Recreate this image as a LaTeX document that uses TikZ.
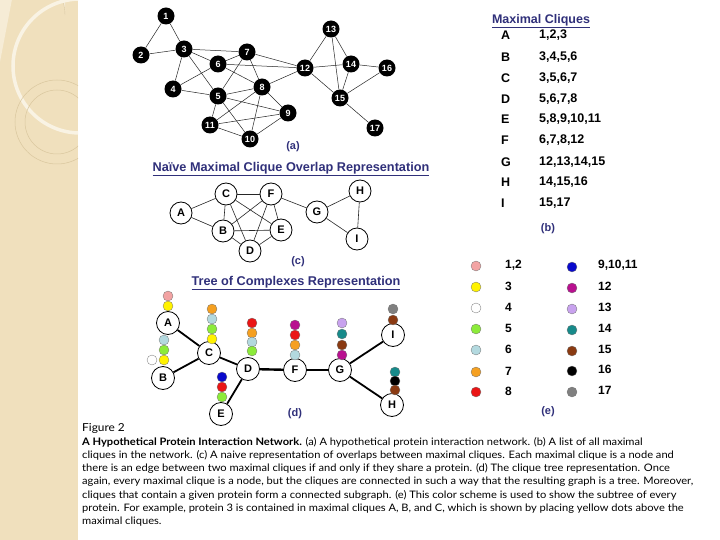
\documentclass[tikz,border=0pt]{standalone}
\usepackage{fontspec}
\setmainfont{Liberation Sans}
\newfontfamily\capfont{Lato}[FakeStretch=1.08]
\definecolor{navy}{HTML}{30307A}
\definecolor{beige}{HTML}{F0E0BD}
\definecolor{beigel}{HTML}{F6ECD6}
\definecolor{tan}{HTML}{D9C79E}
\definecolor{cpink}{HTML}{F2A3A3}
\definecolor{cyellow}{HTML}{FFF200}
\definecolor{cgreen}{HTML}{8CEB3A}
\definecolor{clblue}{HTML}{B3D9DF}
\definecolor{corange}{HTML}{F5A021}
\definecolor{cred}{HTML}{EA1515}
\definecolor{cblue}{HTML}{0A0ACC}
\definecolor{cmag}{HTML}{B8108F}
\definecolor{clav}{HTML}{C8A2EE}
\definecolor{cteal}{HTML}{178A8A}
\definecolor{cbrown}{HTML}{8A3A12}
\definecolor{cgray}{HTML}{808080}
\tikzset{
  anode/.style={circle,fill=black,inner sep=0pt,minimum size=17pt,text=white,font=\bfseries\fontsize{9}{9}\selectfont},
  aedge/.style={draw=black!85,line width=0.5pt},
  cnode/.style={circle,draw=black,fill=white,line width=0.8pt,inner sep=0pt,minimum size=22pt,font=\bfseries\fontsize{11}{11}\selectfont},
  cedge/.style={draw=black!85,line width=0.6pt},
  dnode/.style={circle,draw=black,fill=white,line width=0.8pt,inner sep=0pt,minimum size=23pt,font=\bfseries\fontsize{11}{11}\selectfont},
  dedge/.style={draw=black,line width=1.8pt},
  dotst/.style={draw=black!55,line width=0.3pt},
  heading/.style={font=\bfseries\fontsize{12.7}{13}\selectfont,text=navy,inner sep=0pt},
  plabel/.style={font=\bfseries\fontsize{11}{12}\selectfont,text=navy,inner sep=0pt},
  tabtext/.style={font=\bfseries\fontsize{12.5}{13}\selectfont,inner sep=0pt,anchor=west},
  legtext/.style={font=\bfseries\fontsize{12}{13}\selectfont,inner sep=0pt,anchor=west},
  capline/.style={font=\capfont\fontsize{10.3}{10.5}\selectfont,inner sep=0pt,anchor=base west},
}
\begin{document}
\begin{tikzpicture}[x=1pt,y=-1pt]
\useasboundingbox (0,0) rectangle (720,540);
\fill[white] (0,0) rectangle (720,540);
% left decorative panel
\begin{scope}
\clip (0,0) rectangle (78,540);
\fill[beige] (0,0) rectangle (78,540);
\fill[beigel] (0,0) -- (65,0) -- (65,15) arc[start angle=0,end angle=-90,radius=47] -- (0,62) -- cycle;
\draw[tan,line width=0.4pt] (65,15) arc[start angle=0,end angle=-90,radius=47];
\draw[white!60!beige,line width=3.5pt] (80,66) circle (67);
\draw[tan,line width=0.5pt] (57,122) circle (42);
\draw[tan,line width=0.5pt] (57,122) circle (32);
\end{scope}
% ---------- (a) ----------
\foreach \n/\x/\y in {1/166/16,2/141/55,3/184/49,4/173/89,5/218/96,6/218/64,7/247/52,8/262/87,9/288/113,10/250/139,11/210/125,12/305/68,13/331/29,14/351/64,15/340/98,16/387/68,17/375/128}
  \node[anode] (a\n) at (\x,\y) {\n};
\foreach \u/\v in {1/2,1/3,2/3,3/7,3/6,3/4,3/5,6/7,6/4,6/8,6/12,7/5,7/8,7/12,4/5,5/8,5/9,5/10,5/11,8/9,8/10,8/11,8/12,9/10,9/11,11/10,12/13,12/14,12/15,13/14,13/15,14/15,14/16,15/16,15/17}
  \draw[aedge] (a\u) -- (a\v);
\node[plabel] (la) at (293,147) {(a)};
% ---------- (b) ----------
\node[font=\bfseries\fontsize{12.5}{13}\selectfont,text=navy,inner sep=0pt] (tb) at (541,21) {\underline{Maximal Cliques}};
\foreach \l/\v/\y in {A/{1,2,3}/35,B/{3,4,5,6}/57,C/{3,5,6,7}/78,D/{5,6,7,8}/99,E/{5,8,9,10,11}/119,F/{6,7,8,12}/140,G/{12,13,14,15}/162,H/{14,15,16}/182,I/{15,17}/203}{
  \node[tabtext] (bl\l) at (501,\y) {\l};
  \node[tabtext] (bv\l) at (539,\y) {\v};
}
\node[plabel] (lb) at (548,229) {(b)};
% ---------- (c) ----------
\node[heading] (tc) at (291,169) {\underline{Naïve Maximal Clique Overlap Representation}};
\foreach \n/\x/\y in {A/181/213,C/226/194,F/271/194,B/223/231,E/281/230,D/250/251,G/317/212,H/360/191,I/357/239}
  \node[cnode] (c\n) at (\x,\y) {\n};
\foreach \u/\v in {A/B,A/C,B/C,B/D,B/E,B/F,C/D,C/E,C/F,D/E,D/F,E/F,F/G,G/H,G/I,H/I}
  \draw[cedge] (c\u) -- (c\v);
\node[plabel] (lc) at (298,262) {(c)};
% ---------- (d) ----------
\node[heading] (td) at (296,283) {\underline{Tree of Complexes Representation}};
\foreach \n/\x/\y in {A/168/323,B/163/378,C/209/353,D/248/369,E/221/414,F/295/370,G/340/370,H/392/405,I/393/335}
  \node[dnode] (d\n) at (\x,\y) {\n};
\draw[dedge] (dA) -- (dC);
\draw[dedge] (dB) -- (dC);
\draw[dedge] (dC) -- (dD);
\draw[dedge] (dD) -- (dE);
\draw[dedge,line width=2.4pt] (dD) -- (dF);
\draw[dedge] (dF) -- (dG);
\draw[dedge] (dG) -- (dI);
\draw[dedge] (dG) -- (dH);
\node[plabel] (ld) at (295,414) {(d)};
% dots above tree nodes
\foreach \x/\y/\c in {
  168/296/cpink,168/306/cyellow,
  164/340/clblue,164/350/cgreen,164/360/cyellow,152/360/white,
  212/309/corange,212/319/clblue,212/329/cgreen,212/339/cyellow,
  252/323/cred,252/333/corange,252/342/clblue,252/351/cgreen,
  222/377/cblue,222/387/cred,222/397/cgreen,
  295/325/cmag,295/335/cred,295/345/corange,295/355/clblue,
  342/323/clav,342/334/cteal,342/345/cbrown,342/355/cmag,
  393/309/cgray,393/320/cbrown,
  395/372/cteal,395/381/black,395/390/cbrown}
  \fill[\c,dotst] (\x,\y) circle (5);
% ---------- (e) legend ----------
\foreach \y/\c/\t in {265/cpink/{1,2},286/cyellow/3,307/white/4,328/cgreen/5,349/clblue/6,371/corange/7,391/cred/8}{
  \fill[\c,dotst] (476,\y+1) circle (5);
  \node[legtext] at (505,\y) {\t};
}
\foreach \y/\c/\t in {265/cblue/{9,10,11},286/cmag/12,307/clav/13,328/cteal/14,349/cbrown/15,369/black/16,390/cgray/17}{
  \fill[\c,dotst] (572,\y+2) circle (5);
  \node[legtext] at (598,\y) {\t};
}
\node[plabel] (le) at (548,412) {(e)};
% ---------- caption ----------
\node[capline,font=\capfont\fontsize{11}{11}\selectfont] (cap0) at (82,431) {Figure 2};
\node[capline] (cap1) at (82,445) {\textbf{A Hypothetical Protein Interaction Network.} (a) A hypothetical protein interaction network. (b) A list of all maximal};
\node[capline] (cap2) at (82,458.3) {cliques in the network. (c) A naive representation of overlaps between maximal cliques. Each maximal clique is a node and};
\node[capline] (cap3) at (82,471.6) {there is an edge between two maximal cliques if and only if they share a protein. (d) The clique tree representation. Once};
\node[capline] (cap4) at (82,484.9) {again, every maximal clique is a node, but the cliques are connected in such a way that the resulting graph is a tree. Moreover,};
\node[capline] (cap5) at (82,498.2) {cliques that contain a given protein form a connected subgraph. (e) This color scheme is used to show the subtree of every};
\node[capline] (cap6) at (82,511.5) {protein. For example, protein 3 is contained in maximal cliques A, B, and C, which is shown by placing yellow dots above the};
\node[capline] (cap7) at (82,524.8) {maximal cliques.};
\end{tikzpicture}
\end{document}
